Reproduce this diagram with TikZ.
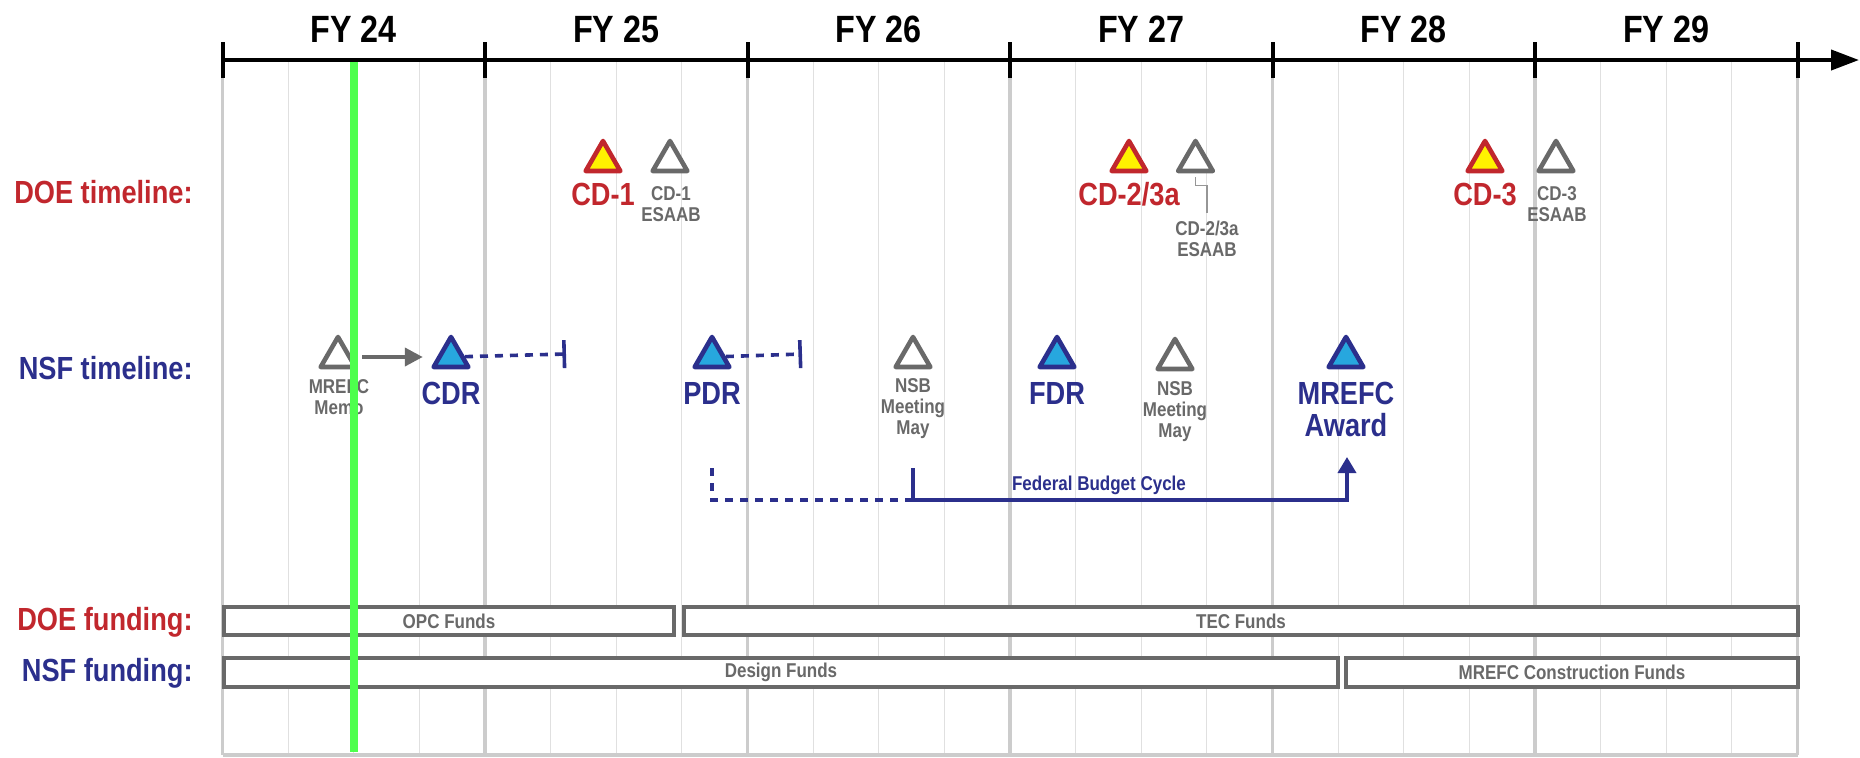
\documentclass[tikz,border=0pt]{standalone}
\usepackage{fontspec}
\setmainfont{Liberation Sans}[FakeStretch=0.85]
\usetikzlibrary{positioning, fit, shapes.geometric, arrows.meta}

\definecolor{doered}{RGB}{193,39,45}
\definecolor{nsfblue}{RGB}{43,47,140}
\definecolor{milefill}{RGB}{39,167,222}
\definecolor{mileyellow}{RGB}{255,242,0}
\definecolor{milegrey}{RGB}{105,105,105}
\definecolor{gridgrey}{RGB}{224,224,224}
\definecolor{yeargrey}{RGB}{204,204,204}
\definecolor{nowgreen}{RGB}{77,255,77}

\begin{document}
\begin{tikzpicture}[x=0.5pt, y=-0.5pt, >={Triangle[length=8pt, width=9pt]},
  milestone/.style={regular polygon, regular polygon sides=3, minimum size=20pt, inner sep=0pt, line width=2.3pt, line join=round},
  doe mile/.style={milestone, draw=doered, fill=mileyellow},
  nsf mile/.style={milestone, draw=nsfblue, fill=milefill},
  other mile/.style={milestone, draw=milegrey, fill=white},
  year label/.style={font=\bfseries\fontsize{19}{19}\selectfont, anchor=base, inner sep=0pt},
  row label/.style={font=\bfseries\fontsize{16}{16}\selectfont, anchor=base east, inner sep=0pt},
  big label/.style={font=\bfseries\fontsize{16}{16}\selectfont, anchor=base, inner sep=0pt, align=center},
  note/.style={font=\bfseries\fontsize{10}{10.5}\selectfont, text=milegrey, anchor=base, inner sep=0pt, align=center},
  fund box/.style={draw=milegrey, fill=white, line width=2.2pt, inner sep=0pt, font=\bfseries\fontsize{10}{10}\selectfont, text=milegrey},
  quarter line/.style={gridgrey, line width=0.6pt},
  year line/.style={yeargrey, line width=1.8pt},
  nsf dash/.style={nsfblue, line width=1.8pt, dash pattern=on 4pt off 3.5pt},
  nsf line/.style={nsfblue, line width=1.8pt}]
  \useasboundingbox (0,0) rectangle (1860,757);

  % grid
  \foreach \q in {0,...,23}
    \draw[quarter line] ({222.5+65.625*\q},62) -- ({222.5+65.625*\q},755);
  \foreach \y in {0,...,6}
    \draw[year line] ({222.5+262.5*\y},78) -- ({222.5+262.5*\y},755);
  \draw[year line] (222.5,755) -- (1797.5,755);

  % time axis
  \draw[line width=2pt, -{Triangle[length=14pt, width=10pt]}] (222.5,60) -- (1859,60);
  \foreach \y in {0,...,6}
    \draw[line width=2pt] ({222.5+262.5*\y},42) -- ({222.5+262.5*\y},78);
  \foreach \n [count=\i from 0] in {24,...,29}
    \node[year label] (fy\n) at ({353.75+262.5*\i},42) {FY \n};

  % row labels
  \node[row label, text=doered] (doe timeline) at (193,203) {DOE timeline:};
  \node[row label, text=nsfblue] (nsf timeline) at (193,379) {NSF timeline:};
  \node[row label, text=doered] (doe funding) at (193,630) {DOE funding:};
  \node[row label, text=nsfblue] (nsf funding) at (193,681) {NSF funding:};

  % DOE milestones
  \node[doe mile] (cd1) at (603,161) {};
  \node[other mile] (cd1 esaab) at (670,161) {};
  \node[doe mile] (cd2) at (1129,161) {};
  \node[other mile] (cd2 esaab) at (1195.5,161) {};
  \node[doe mile] (cd3) at (1485,161) {};
  \node[other mile] (cd3 esaab) at (1556,161) {};

  \node[big label, text=doered] (cd1 text) at (603,205) {CD-1};
  \node[note] (cd1 esaab text) at (671,221) {CD-1\\ESAAB};
  \node[big label, text=doered] (cd2 text) at (1129,205) {CD-2/3a};
  \node[note] (cd2 esaab text) at (1207,256) {CD-2/3a\\ESAAB};
  \node[big label, text=doered] (cd3 text) at (1485,205) {CD-3};
  \node[note] (cd3 esaab text) at (1557,221) {CD-3\\ESAAB};
  \draw[milegrey!70, line width=0.8pt] ([yshift=-2pt]cd2 esaab.south) -- ++(0,8) -| ([yshift=3.5pt]cd2 esaab text.north);

  % NSF milestones
  \node[other mile] (memo) at (338,357) {};
  \node[nsf mile] (cdr) at (451,357) {};
  \node[nsf mile] (pdr) at (712,357) {};
  \node[other mile] (nsb1) at (913,357) {};
  \node[nsf mile] (fdr) at (1057,357) {};
  \node[other mile] (nsb2) at (1175,359) {};
  \node[nsf mile] (award) at (1346,357) {};

  \node[note] (memo text) at (339,414) {MREFC\\Memo};
  \node[big label, text=nsfblue] (cdr text) at (451,404) {CDR};
  \node[big label, text=nsfblue] (pdr text) at (712,404) {PDR};
  \node[note] (nsb1 text) at (913,434) {NSB\\Meeting\\May};
  \node[big label, text=nsfblue] (fdr text) at (1057,404) {FDR};
  \node[note] (nsb2 text) at (1175,437) {NSB\\Meeting\\May};
  \node[big label, text=nsfblue] (award text) at (1346,436) {MREFC\\Award};

  \draw[milegrey, line width=2pt, -{Triangle[length=9pt, width=9pt]}, shorten <=5pt, shorten >=7pt] (memo) -- (cdr);
  \coordinate (cdr review) at (566,354);
  \coordinate (pdr review) at (802,354);
  \draw[nsf dash, -{Bar[width=14pt]}] (cdr) -- (cdr review);
  \draw[nsf dash, -{Bar[width=14pt]}] (pdr) -- (pdr review);

  % budget cycle
  \coordinate (cycle start) at (712,468);
  \coordinate (nsb budget) at (913,468);
  \coordinate (cycle corner) at (913,500);
  \coordinate (award budget) at (1347,457);
  \draw[nsf dash] (cycle start) |- (cycle corner);
  \draw[nsf line, ->] (nsb budget) -- (cycle corner) -| (award budget);
  \node[font=\bfseries\fontsize{10}{10}\selectfont, text=nsfblue, anchor=base, inner sep=0pt] (cycle text) at (1099,490) {Federal Budget Cycle};

  % funding bars
  \node[fund box, minimum width=224.8pt, minimum height=13.8pt] (opc) at (449,621) {OPC Funds};
  \node[fund box, minimum width=556.8pt, minimum height=13.8pt] (tec) at (1241,621) {TEC Funds};
  \node[fund box, minimum width=556.8pt, minimum height=14.3pt] (design) at (781,672.5) {Design Funds};
  \node[fund box, minimum width=225.8pt, minimum height=14.3pt] (construction) at (1572,672.5) {MREFC Construction Funds};

  % today
  \draw[nowgreen, line width=4pt] (354,62) -- (354,752);
\end{tikzpicture}
\end{document}
